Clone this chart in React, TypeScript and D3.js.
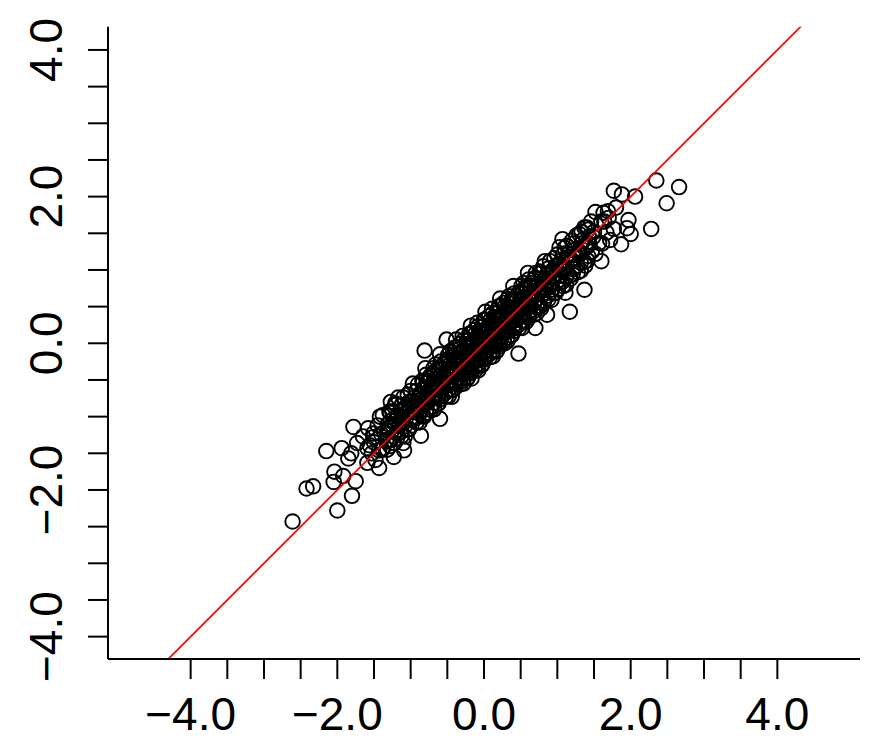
import React from "react";
import * as d3 from "d3";

const W = 877;
const H = 746;

const xDomain = [-5.127, 5.127];
const yDomain = [-4.305, 4.317];
const tickValues = [-4, -3.5, -3, -2.5, -2, -1.5, -1, -0.5, 0, 0.5, 1, 1.5, 2, 2.5, 3, 3.5, 4];
const labelValues = [-4, -2, 0, 2, 4];

const bandX = [
  -1.59, -1.53, -1.56, -1.51, -1.58,
  -1.48, -1.43, -1.5, -1.4, -1.45,
  -1.39, -1.33, -1.36, -1.31, -1.38,
  -1.28, -1.23, -1.3, -1.2, -1.25,
  -1.19, -1.13, -1.16, -1.11, -1.18, -1.14, -1.12, -1.17,
  -1.08, -1.03, -1.1, -1.0, -1.05, -1.07, -1.02, -1.04,
  -0.99, -0.93, -0.96, -0.91, -0.98, -0.94, -0.92, -0.97,
  -0.88, -0.83, -0.9, -0.8, -0.85, -0.87, -0.82, -0.84,
  -0.79, -0.73, -0.76, -0.71, -0.78, -0.74, -0.72, -0.77, -0.75, -0.7, -0.8,
  -0.68, -0.63, -0.7, -0.6, -0.65, -0.67, -0.62, -0.64, -0.68, -0.61, -0.66,
  -0.59, -0.53, -0.56, -0.51, -0.58, -0.54, -0.52, -0.57, -0.55, -0.5, -0.6,
  -0.48, -0.43, -0.5, -0.4, -0.45, -0.47, -0.42, -0.44, -0.48, -0.41, -0.46,
  -0.39, -0.33, -0.36, -0.31, -0.38, -0.34, -0.32, -0.37, -0.35, -0.3, -0.4, -0.33, -0.38,
  -0.28, -0.23, -0.3, -0.2, -0.25, -0.27, -0.22, -0.24, -0.28, -0.21, -0.26, -0.23, -0.29,
  -0.19, -0.13, -0.16, -0.11, -0.18, -0.14, -0.12, -0.17, -0.15, -0.1, -0.2, -0.13, -0.18,
  -0.08, -0.03, -0.1, 0.0, -0.05, -0.07, -0.02, -0.04, -0.08, -0.01, -0.06, -0.03, -0.09,
  0.01, 0.07, 0.04, 0.09, 0.02, 0.06, 0.08, 0.03, 0.05, 0.1, 0.0, 0.07, 0.02,
  0.12, 0.17, 0.1, 0.2, 0.15, 0.13, 0.18, 0.16, 0.12, 0.19, 0.14, 0.17, 0.11,
  0.21, 0.27, 0.24, 0.29, 0.22, 0.26, 0.28, 0.23, 0.25, 0.3, 0.2, 0.27, 0.22,
  0.32, 0.37, 0.3, 0.4, 0.35, 0.33, 0.38, 0.36, 0.32, 0.39, 0.34,
  0.41, 0.47, 0.44, 0.49, 0.42, 0.46, 0.48, 0.43, 0.45, 0.5, 0.4,
  0.52, 0.57, 0.5, 0.6, 0.55, 0.53, 0.58, 0.56, 0.52, 0.59, 0.54,
  0.61, 0.67, 0.64, 0.69, 0.62, 0.66, 0.68, 0.63, 0.65, 0.7, 0.6,
  0.72, 0.77, 0.7, 0.8, 0.75, 0.73, 0.78, 0.76,
  0.81, 0.87, 0.84, 0.89, 0.82, 0.86, 0.88, 0.83,
  0.92, 0.97, 0.9, 1.0, 0.95, 0.93, 0.98, 0.96,
  1.01, 1.07, 1.04, 1.09, 1.02, 1.06, 1.08, 1.03,
  1.12, 1.17, 1.1, 1.2, 1.15, 1.13,
  1.21, 1.27, 1.24, 1.29, 1.22, 1.26,
  1.32, 1.37, 1.3, 1.4, 1.35, 1.33,
  1.41, 1.47, 1.44, 1.49, 1.42, 1.46,
  1.52, 1.57, 1.5, 1.6,
  1.61, 1.67, 1.64, 1.69,
  1.72, 1.77, 1.7, 1.8,
];

const bandY = [
  -1.63, -1.5, -1.39, -1.28, -1.16,
  -1.59, -1.46, -1.35, -1.24, -1.12,
  -1.45, -1.32, -1.21, -1.1, -0.98,
  -1.4, -1.27, -1.16, -1.05, -0.93,
  -1.31, -1.21, -1.13, -1.06, -0.99, -0.92, -0.84, -0.74,
  -1.27, -1.17, -1.09, -1.02, -0.95, -0.88, -0.8, -0.7,
  -1.12, -1.02, -0.94, -0.87, -0.8, -0.73, -0.65, -0.55,
  -1.08, -0.98, -0.9, -0.83, -0.76, -0.69, -0.61, -0.51,
  -0.95, -0.87, -0.8, -0.74, -0.69, -0.64, -0.59, -0.54, -0.48, -0.41, -0.34,
  -0.9, -0.82, -0.75, -0.69, -0.64, -0.59, -0.54, -0.49, -0.43, -0.36, -0.29,
  -0.76, -0.68, -0.61, -0.55, -0.5, -0.45, -0.4, -0.35, -0.29, -0.22, -0.15,
  -0.72, -0.64, -0.57, -0.51, -0.46, -0.41, -0.36, -0.31, -0.25, -0.18, -0.11,
  -0.6, -0.53, -0.47, -0.41, -0.36, -0.31, -0.26, -0.21, -0.16, -0.11, -0.06, -0.01, 0.05,
  -0.55, -0.48, -0.42, -0.36, -0.31, -0.26, -0.21, -0.16, -0.11, -0.06, -0.01, 0.04, 0.1,
  -0.41, -0.34, -0.28, -0.22, -0.17, -0.12, -0.07, -0.02, 0.03, 0.08, 0.13, 0.18, 0.24,
  -0.37, -0.3, -0.24, -0.18, -0.13, -0.08, -0.03, 0.02, 0.07, 0.12, 0.17, 0.22, 0.28,
  -0.22, -0.15, -0.09, -0.03, 0.02, 0.07, 0.12, 0.17, 0.22, 0.27, 0.32, 0.37, 0.43,
  -0.18, -0.11, -0.05, 0.01, 0.06, 0.11, 0.16, 0.21, 0.26, 0.31, 0.36, 0.41, 0.47,
  -0.04, 0.03, 0.09, 0.15, 0.2, 0.25, 0.3, 0.35, 0.4, 0.45, 0.5, 0.55, 0.61,
  0.03, 0.11, 0.18, 0.24, 0.29, 0.34, 0.39, 0.44, 0.5, 0.57, 0.64,
  0.17, 0.25, 0.32, 0.38, 0.43, 0.48, 0.53, 0.58, 0.64, 0.71, 0.78,
  0.21, 0.29, 0.36, 0.42, 0.47, 0.52, 0.57, 0.62, 0.68, 0.75, 0.82,
  0.35, 0.43, 0.5, 0.56, 0.61, 0.66, 0.71, 0.76, 0.82, 0.89, 0.96,
  0.41, 0.51, 0.59, 0.66, 0.73, 0.8, 0.88, 0.98,
  0.55, 0.65, 0.73, 0.8, 0.87, 0.94, 1.02, 1.12,
  0.59, 0.69, 0.77, 0.84, 0.91, 0.98, 1.06, 1.16,
  0.74, 0.84, 0.92, 0.99, 1.06, 1.13, 1.21, 1.31,
  0.8, 0.92, 1.02, 1.12, 1.22, 1.33,
  0.94, 1.06, 1.16, 1.26, 1.36, 1.47,
  0.99, 1.11, 1.21, 1.31, 1.41, 1.52,
  1.13, 1.25, 1.35, 1.45, 1.55, 1.66,
  1.22, 1.37, 1.52, 1.66,
  1.36, 1.51, 1.66, 1.8,
  1.41, 1.56, 1.71, 1.85,
];

const coreX = [
  -1.32, -1.28, -1.31, -1.27, -1.29,
  -1.22, -1.18, -1.21, -1.17, -1.2,
  -1.12, -1.08, -1.11, -1.07, -1.1,
  -1.02, -0.98, -1.01, -0.97, -1.0,
  -0.92, -0.88, -0.91, -0.87, -0.9,
  -0.82, -0.78, -0.81, -0.77, -0.8, -0.83, -0.79,
  -0.72, -0.68, -0.71, -0.67, -0.7, -0.73, -0.69,
  -0.62, -0.58, -0.61, -0.57, -0.6, -0.63, -0.59,
  -0.52, -0.48, -0.51, -0.47, -0.5, -0.53, -0.49,
  -0.42, -0.38, -0.41, -0.37, -0.4, -0.43, -0.39,
  -0.32, -0.28, -0.31, -0.27, -0.3, -0.33, -0.29, -0.31, -0.28,
  -0.22, -0.18, -0.21, -0.17, -0.2, -0.23, -0.19, -0.21, -0.18,
  -0.12, -0.08, -0.11, -0.07, -0.1, -0.13, -0.09, -0.11, -0.08,
  -0.02, 0.02, -0.01, 0.03, 0.0, -0.03, 0.01, -0.01, 0.02,
  0.08, 0.12, 0.09, 0.13, 0.1, 0.07, 0.11, 0.09, 0.12,
  0.18, 0.22, 0.19, 0.23, 0.2, 0.17, 0.21, 0.19, 0.22,
  0.28, 0.32, 0.29, 0.33, 0.3, 0.27, 0.31, 0.29, 0.32,
  0.38, 0.42, 0.39, 0.43, 0.4, 0.37, 0.41,
  0.48, 0.52, 0.49, 0.53, 0.5, 0.47, 0.51,
  0.58, 0.62, 0.59, 0.63, 0.6, 0.57, 0.61,
  0.68, 0.72, 0.69, 0.73, 0.7, 0.67, 0.71,
  0.78, 0.82, 0.79, 0.83, 0.8, 0.77, 0.81,
  0.88, 0.92, 0.89, 0.93, 0.9,
  0.98, 1.02, 0.99, 1.03, 1.0,
  1.08, 1.12, 1.09, 1.13, 1.1,
  1.18, 1.22, 1.19, 1.23, 1.2,
  1.28, 1.32, 1.29, 1.33, 1.3,
  1.38, 1.42, 1.39, 1.43, 1.4,
];

const coreY = [
  -1.45, -1.32, -1.19, -1.06, -0.93,
  -1.36, -1.23, -1.1, -0.97, -0.84,
  -1.26, -1.13, -1.0, -0.87, -0.74,
  -1.17, -1.04, -0.91, -0.78, -0.65,
  -1.08, -0.95, -0.82, -0.69, -0.56,
  -1.0, -0.9, -0.81, -0.72, -0.63, -0.53, -0.43,
  -0.91, -0.81, -0.72, -0.63, -0.54, -0.44, -0.34,
  -0.82, -0.72, -0.63, -0.54, -0.45, -0.35, -0.25,
  -0.73, -0.63, -0.54, -0.45, -0.36, -0.26, -0.16,
  -0.63, -0.53, -0.44, -0.35, -0.26, -0.16, -0.06,
  -0.56, -0.48, -0.41, -0.34, -0.27, -0.2, -0.13, -0.05, 0.04,
  -0.47, -0.39, -0.32, -0.25, -0.18, -0.11, -0.04, 0.04, 0.13,
  -0.37, -0.29, -0.22, -0.15, -0.08, -0.01, 0.06, 0.14, 0.23,
  -0.28, -0.2, -0.13, -0.06, 0.01, 0.08, 0.15, 0.23, 0.32,
  -0.19, -0.11, -0.04, 0.03, 0.1, 0.17, 0.24, 0.32, 0.41,
  -0.09, -0.01, 0.06, 0.13, 0.2, 0.27, 0.34, 0.42, 0.51,
  0.0, 0.08, 0.15, 0.22, 0.29, 0.36, 0.43, 0.51, 0.6,
  0.11, 0.21, 0.3, 0.39, 0.48, 0.58, 0.68,
  0.21, 0.31, 0.4, 0.49, 0.58, 0.68, 0.78,
  0.3, 0.4, 0.49, 0.58, 0.67, 0.77, 0.87,
  0.39, 0.49, 0.58, 0.67, 0.76, 0.86, 0.96,
  0.48, 0.58, 0.67, 0.76, 0.85, 0.95, 1.05,
  0.6, 0.73, 0.86, 0.99, 1.12,
  0.69, 0.82, 0.95, 1.08, 1.21,
  0.78, 0.91, 1.04, 1.17, 1.3,
  0.88, 1.01, 1.14, 1.27, 1.4,
  0.97, 1.1, 1.23, 1.36, 1.49,
  1.06, 1.19, 1.32, 1.45, 1.58,
];

const tailX = [
  -2.61, -2.0, -1.8, -2.42, -2.33, -2.05, -1.75, -2.04, -1.92, -1.43, -1.23, -2.15, -1.94,
  -1.85, -1.81, -1.78, -1.65, -1.73, -1.59, -1.51, -1.42, -1.28, -1.1, -1.33, -1.21,
  2.35, 2.66, 2.49, 2.28, 2.06, 1.77, 1.88, 1.17, 0.47, -0.81, 1.6, 1.37, 1.07, -0.51,
  1.37, 1.52, 1.63, 1.97, 1.95, 2.0, 1.87, 0.86, 0.7, 1.11, -0.17, -0.44, -0.6, -0.86,
  -1.09, -1.27,
];

const tailY = [
  -2.43, -2.28, -2.08, -1.98, -1.95, -1.89, -1.88, -1.75, -1.81, -1.7, -1.55, -1.47, -1.43,
  -1.57, -1.5, -1.14, -1.27, -1.36, -1.43, -1.23, -1.0, -0.95, -1.36, -1.34, -0.82,
  2.22, 2.13, 1.91, 1.56, 2.0, 2.08, 2.03, 0.43, -0.14, -0.1, 1.12, 0.73, 1.42, 0.05,
  1.58, 1.79, 1.78, 1.68, 1.57, 1.49, 1.35, 0.39, 0.21, 0.69, -0.48, -0.73, -1.03, -1.26,
  -1.46, -0.8,
];

const allX = [...bandX, ...coreX, ...tailX];
const allY = [...bandY, ...coreY, ...tailY];

export default function App() {
  const left = 108;
  const right = 860;
  const top = 26.7;
  const bottom = 659;

  const x = d3.scaleLinear().domain(xDomain).range([left, right]);
  const y = d3.scaleLinear().domain(yDomain).range([bottom, top]);
  const fmt = d3.format(".1f");

  const lineGen = d3
    .line<number>()
    .x((d) => x(d))
    .y((d) => y(d));

  const font = "'Liberation Sans', Arial, Helvetica, sans-serif";

  return (
    <svg
      width={W}
      height={H}
      viewBox={`0 0 ${W} ${H}`}
      style={{ position: "absolute", left: 0, top: 0, background: "#fff" }}
    >
      <defs>
        <clipPath id="plotClip">
          <rect x={left} y={top} width={right - left} height={bottom - top} />
        </clipPath>
      </defs>
      <rect x={0} y={0} width={W} height={H} fill="#fff" />

      <g>
        {allX.map((vx, i) => (
          <circle
            key={i}
            cx={x(vx)}
            cy={y(allY[i])}
            r={7.3}
            fill="none"
            stroke="#000"
            strokeWidth={1.9}
          />
        ))}
      </g>

      <path
        d={lineGen([-6, 6]) || ""}
        stroke="#ff0000"
        strokeWidth={1.7}
        fill="none"
        clipPath="url(#plotClip)"
      />

      <line x1={left} x2={left} y1={top} y2={bottom} stroke="#000" strokeWidth={2} />
      <line x1={left} x2={right} y1={bottom} y2={bottom} stroke="#000" strokeWidth={2} />

      {tickValues.map((t) => (
        <line
          key={"xt" + t}
          x1={x(t)}
          x2={x(t)}
          y1={bottom}
          y2={bottom + 20}
          stroke="#000"
          strokeWidth={2}
        />
      ))}
      {tickValues.map((t) => (
        <line
          key={"yt" + t}
          x1={left - 20}
          x2={left}
          y1={y(t)}
          y2={y(t)}
          stroke="#000"
          strokeWidth={2}
        />
      ))}

      {labelValues.map((t) => (
        <text
          key={"xl" + t}
          x={x(t)}
          y={730}
          textAnchor="middle"
          fontFamily={font}
          fontSize={46}
          fill="#000"
        >
          {fmt(t)}
        </text>
      ))}
      {labelValues.map((t) => (
        <text
          key={"yl" + t}
          transform={`translate(62, ${y(t)}) rotate(-90)`}
          textAnchor="middle"
          fontFamily={font}
          fontSize={46}
          fill="#000"
        >
          {fmt(t)}
        </text>
      ))}
    </svg>
  );
}
